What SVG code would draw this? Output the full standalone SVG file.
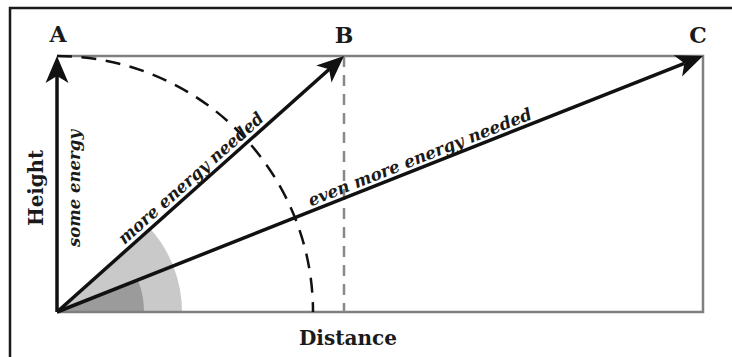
<svg xmlns="http://www.w3.org/2000/svg" width="732" height="357" viewBox="0 0 732 357">
<style>
.lbl{font-family:"DejaVu Serif","Liberation Serif",serif;font-weight:bold;fill:#1a1a1a}
.it{font-family:"DejaVu Serif","Liberation Serif",serif;font-weight:bold;font-style:italic;fill:#1a1a1a;font-size:17px}
.arrow{stroke:#111;stroke-width:3.5;fill:none}
</style>
<defs>
<path id="head" d="M0,0 L-27,-11.5 L-20,0 L-27,11.5 Z" fill="#111"/>
</defs>
<rect width="732" height="357" fill="#fff"/>
<g id="frame">
<path d="M10,357 V8 H732" fill="none" stroke="#1a1a1a" stroke-width="2.5"/>
</g>
<g id="sectors">
<path d="M57,312 L182,312 A125,125 0 0 0 150.3,228.8 Z" fill="#c9c9c9"/>
<path d="M57,312 L144,312 A87,87 0 0 0 137.9,280.1 Z" fill="#9b9b9b"/>
</g>
<g id="box">
<path d="M57,56 H703 V312 H57" fill="none" stroke="#808080" stroke-width="2.5"/>
</g>
<g id="guides">
<path d="M344,56 V312" stroke="#888" stroke-width="2.5" stroke-dasharray="11 8" fill="none"/>
<path d="M57,56 A256,256 0 0 1 313,312" stroke="#111" stroke-width="2.5" stroke-dasharray="15 9.5" fill="none"/>
</g>
<g id="connectors">
<line class="arrow" x1="57" y1="312" x2="57" y2="76"/>
<use href="#head" transform="translate(57,56) rotate(-90)"/>
<line class="arrow" x1="57" y1="312" x2="329.8" y2="68.7"/>
<use href="#head" transform="translate(344,56) rotate(-41.72)"/>
<line class="arrow" x1="57" y1="312" x2="684.4" y2="63.3"/>
<use href="#head" transform="translate(703,56) rotate(-21.54)"/>
</g>
<g id="node-A"><text class="lbl" x="58" y="42" font-size="22" text-anchor="middle">A</text></g>
<g id="node-B"><text class="lbl" x="344" y="43" font-size="22" text-anchor="middle">B</text></g>
<g id="node-C"><text class="lbl" x="698" y="43" font-size="22" text-anchor="middle">C</text></g>
<g id="axis-labels">
<text class="lbl" x="348" y="345" font-size="20" text-anchor="middle" textLength="98" lengthAdjust="spacingAndGlyphs">Distance</text>
<text class="lbl" transform="translate(43,188) rotate(-90)" font-size="20" text-anchor="middle" textLength="76" lengthAdjust="spacingAndGlyphs">Height</text>
</g>
<g id="arrow-labels">
<text class="it" transform="translate(80,247) rotate(-90)" textLength="117" lengthAdjust="spacingAndGlyphs">some energy</text>
<text class="it" transform="translate(124.6,245) rotate(-41.72)" textLength="188" lengthAdjust="spacingAndGlyphs">more energy needed</text>
<text class="it" transform="translate(310.9,206.4) rotate(-21.54)" textLength="239" lengthAdjust="spacingAndGlyphs">even more energy needed</text>
</g>
</svg>
